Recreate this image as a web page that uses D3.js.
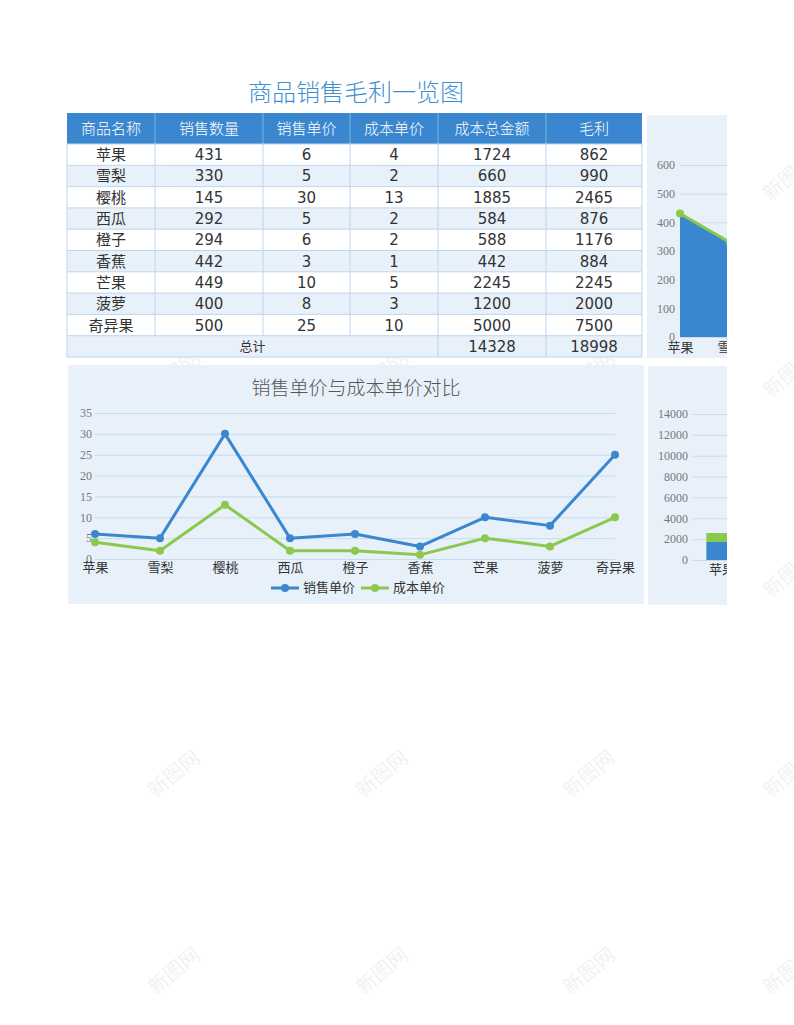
<!DOCTYPE html>
<html><head><meta charset="utf-8">
<script src="https://cdn.jsdelivr.net/npm/d3@7"></script>
<style>
html,body{margin:0;padding:0;background:#fff;}
svg{display:block;}
</style></head>
<body>
<svg id="c" width="794" height="1025"></svg>
<script>
const categories = ["苹果","雪梨","樱桃","西瓜","橙子","香蕉","芒果","菠萝","奇异果"];
const salesQty   = [431,330,145,292,294,442,449,400,500];
const salePrice  = [6,5,30,5,6,3,10,8,25];
const costPrice  = [4,2,13,2,2,1,5,3,10];
const costTotal  = [1724,660,1885,584,588,442,2245,1200,5000];
const profit     = [862,990,2465,876,1176,884,2245,2000,7500];
const totals     = {costTotal:14328, profit:18998};
const headers    = ["商品名称","销售数量","销售单价","成本单价","成本总金额","毛利"];
const priceTicks = [0,5,10,15,20,25,30,35];
const qtyTicks   = [0,100,200,300,400,500,600];
const stackTicks = [0,2000,4000,6000,8000,10000,12000,14000];

const BLUE="#3a87d0", GREEN="#8cc84b", PANEL="#e8f1fa", GRID="#c5dcef";
const CJK = "'DejaVu Sans','Noto Sans CJK SC',sans-serif";
const SERIF = "'Liberation Serif','Noto Serif CJK SC',serif";
const svg = d3.select("#c");

// watermarks
const wmX=[175,383,590,790], wmY=[178,375,575,775,972];
wmX.forEach(x=>wmY.forEach(y=>{
  svg.append("text").attr("x",x).attr("y",y).attr("transform",`rotate(-40 ${x} ${y})`)
    .attr("text-anchor","middle").attr("dominant-baseline","middle")
    .attr("font-family","'Noto Sans CJK SC'").attr("font-size",20)
    .attr("fill","#000").attr("opacity",0.05).text("新图网");
}));

// title
svg.append("text").attr("x",356).attr("y",101).attr("text-anchor","middle")
  .attr("font-family","'Noto Sans CJK SC'").attr("font-weight",300).attr("font-size",24).attr("fill","#3f8fd0").text("商品销售毛利一览图");

// table
const colEdges=[67,155,263,350,438,546,642];
const headTop=113, headH=31, rowH=21.3;
const rowTop=headTop+headH;
const tbl=svg.append("g");
tbl.append("rect").attr("x",67).attr("y",headTop).attr("width",575).attr("height",headH).attr("fill",BLUE);
headers.forEach((h,i)=>{
  tbl.append("text").attr("x",(colEdges[i]+colEdges[i+1])/2).attr("y",headTop+headH/2+1)
   .attr("text-anchor","middle").attr("dominant-baseline","middle")
   .attr("font-family",CJK).attr("font-weight",300).attr("font-size",15).attr("fill","#fff").text(h);
  if(i>0) tbl.append("line").attr("x1",colEdges[i]).attr("x2",colEdges[i]).attr("y1",headTop).attr("y2",headTop+headH).attr("stroke","#7fb3e2").attr("stroke-width",1);
});
const rows = categories.map((c,i)=>[c,salesQty[i],salePrice[i],costPrice[i],costTotal[i],profit[i]]);
rows.forEach((r,ri)=>{
  const y=rowTop+ri*rowH;
  tbl.append("rect").attr("x",67).attr("y",y).attr("width",575).attr("height",rowH).attr("fill",ri%2?PANEL:"#fff");
  r.forEach((v,i)=>{
    tbl.append("text").attr("x",(colEdges[i]+colEdges[i+1])/2).attr("y",y+rowH/2+1)
      .attr("text-anchor","middle").attr("dominant-baseline","middle")
      .attr("font-family",CJK).attr("font-size",15).attr("fill","#333").text(v);
  });
});
const totY=rowTop+9*rowH;
tbl.append("rect").attr("x",67).attr("y",totY).attr("width",575).attr("height",rowH).attr("fill",PANEL);
[["总计",(67+438)/2,13],[totals.costTotal,(438+546)/2,15],[totals.profit,(546+642)/2,15]].forEach(([t,x,fs])=>{
  tbl.append("text").attr("x",x).attr("y",totY+rowH/2+1).attr("text-anchor","middle").attr("dominant-baseline","middle")
   .attr("font-family",CJK).attr("font-size",fs).attr("fill","#333").text(t);
});
// borders
const bcol="#bcd6ee";
for(let k=0;k<=10;k++){
  const y=rowTop+k*rowH;
  tbl.append("line").attr("x1",67).attr("x2",642).attr("y1",y).attr("y2",y).attr("stroke",bcol);
}
colEdges.forEach((x,i)=>{
  const y2 = (i===0||i>=4) ? totY+rowH : totY;
  tbl.append("line").attr("x1",x).attr("x2",x).attr("y1",rowTop).attr("y2",y2).attr("stroke",bcol);
});

// ---- line chart panel
const lp = svg.append("g");
lp.append("rect").attr("x",68).attr("y",365).attr("width",576).attr("height",239).attr("fill",PANEL);
lp.append("text").attr("x",356).attr("y",395).attr("text-anchor","middle")
  .attr("font-family","'Noto Sans CJK SC'").attr("font-weight",300).attr("font-size",19).attr("fill","#555").text("销售单价与成本单价对比");
const x1=d3.scalePoint().domain(categories).range([95,615]);
const y1=d3.scaleLinear().domain([0,35]).range([559,413]);
lp.append("g").attr("transform","translate(95,0)")
  .call(d3.axisLeft(y1).tickValues(priceTicks).tickSize(-520).tickPadding(3))
  .call(g=>{g.select(".domain").remove();
    g.selectAll(".tick line").attr("stroke",GRID);
    g.selectAll(".tick text").attr("font-family",SERIF).attr("font-size",12).attr("fill","#777").attr("x",-3);});
lp.append("g").attr("transform","translate(0,559)")
  .call(d3.axisBottom(x1).tickSize(0).tickPadding(4))
  .call(g=>{g.select(".domain").remove();
    g.selectAll(".tick text").attr("font-family","'Noto Sans CJK SC'").attr("font-size",13).attr("fill","#333");});
const line=d3.line().x((d,i)=>x1(categories[i])).y(d=>y1(d));
[[salePrice,BLUE],[costPrice,GREEN]].forEach(([arr,col])=>{
  lp.append("path").datum(arr).attr("d",line).attr("fill","none").attr("stroke",col).attr("stroke-width",3).attr("stroke-linejoin","round");
  lp.selectAll(null).data(arr).enter().append("circle").attr("cx",(d,i)=>x1(categories[i])).attr("cy",d=>y1(d)).attr("r",4).attr("fill",col);
});
// legend
[["销售单价",BLUE,271],["成本单价",GREEN,361]].forEach(([t,col,x])=>{
  lp.append("line").attr("x1",x).attr("x2",x+28).attr("y1",588).attr("y2",588).attr("stroke",col).attr("stroke-width",3);
  lp.append("circle").attr("cx",x+14).attr("cy",588).attr("r",4).attr("fill",col);
  lp.append("text").attr("x",x+32).attr("y",588).attr("dominant-baseline","middle")
    .attr("font-family","'Noto Sans CJK SC'").attr("font-size",13).attr("fill","#333").text(t);
});

// ---- top-right area panel (clipped)
svg.append("clipPath").attr("id","cp1").append("rect").attr("x",647).attr("y",115).attr("width",80).attr("height",243);
const ap=svg.append("g").attr("clip-path","url(#cp1)");
ap.append("rect").attr("x",647).attr("y",115).attr("width",80).attr("height",243).attr("fill",PANEL);
const x2=d3.scalePoint().domain(categories).range([680,680+8*50]);
const y2=d3.scaleLinear().domain([0,600]).range([337,165]);
ap.append("g").attr("transform","translate(680,0)")
  .call(d3.axisLeft(y2).tickValues(qtyTicks).tickSize(-400).tickPadding(5))
  .call(g=>{g.select(".domain").remove();
    g.selectAll(".tick line").attr("stroke","#d0d8e0");
    g.selectAll(".tick text").attr("font-family",SERIF).attr("font-size",12).attr("fill","#777");});
ap.append("path").datum(salesQty).attr("fill",BLUE)
  .attr("d",d3.area().x((d,i)=>x2(categories[i])).y0(y2(0)).y1(d=>y2(d)));
ap.append("path").datum(salesQty).attr("fill","none").attr("stroke",GREEN).attr("stroke-width",3)
  .attr("d",d3.line().x((d,i)=>x2(categories[i])).y(d=>y2(d)));
ap.selectAll(null).data(salesQty).enter().append("circle").attr("cx",(d,i)=>x2(categories[i])).attr("cy",d=>y2(d)).attr("r",4).attr("fill",GREEN);
ap.append("g").attr("transform","translate(0,341)")
  .call(d3.axisBottom(x2).tickSize(0).tickPadding(2))
  .call(g=>{g.select(".domain").remove();
    g.selectAll(".tick text").attr("font-family","'Noto Sans CJK SC'").attr("font-size",13).attr("fill","#333");});

// ---- bottom-right stacked bar panel (clipped)
svg.append("clipPath").attr("id","cp2").append("rect").attr("x",648).attr("y",366).attr("width",79).attr("height",239);
const bp=svg.append("g").attr("clip-path","url(#cp2)");
bp.append("rect").attr("x",648).attr("y",366).attr("width",79).attr("height",239).attr("fill",PANEL);
const x3=d3.scaleBand().domain(categories).range([693,693+9*46]).padding(0.3);
const y3=d3.scaleLinear().domain([0,14000]).range([560,414]);
bp.append("g").attr("transform","translate(693,0)")
  .call(d3.axisLeft(y3).tickValues(stackTicks).tickSize(-420).tickPadding(5).tickFormat(d3.format("d")))
  .call(g=>{g.select(".domain").remove();
    g.selectAll(".tick line").attr("stroke","#d0d8e0");
    g.selectAll(".tick text").attr("font-family",SERIF).attr("font-size",12).attr("fill","#777");});
const stack=d3.stack().keys(["cost","profit"])(categories.map((c,i)=>({cat:c,cost:costTotal[i],profit:profit[i]})));
stack.forEach((s,si)=>{
  bp.selectAll(null).data(s).enter().append("rect")
    .attr("x",d=>x3(d.data.cat)).attr("width",x3.bandwidth())
    .attr("y",d=>y3(d[1])).attr("height",d=>y3(d[0])-y3(d[1]))
    .attr("fill",si?GREEN:BLUE);
});
bp.append("g").attr("transform","translate(0,562)")
  .call(d3.axisBottom(x3).tickSize(0).tickPadding(3))
  .call(g=>{g.select(".domain").remove();
    g.selectAll(".tick text").attr("font-family","'Noto Sans CJK SC'").attr("font-size",13).attr("fill","#333");});
</script>
</body></html>
